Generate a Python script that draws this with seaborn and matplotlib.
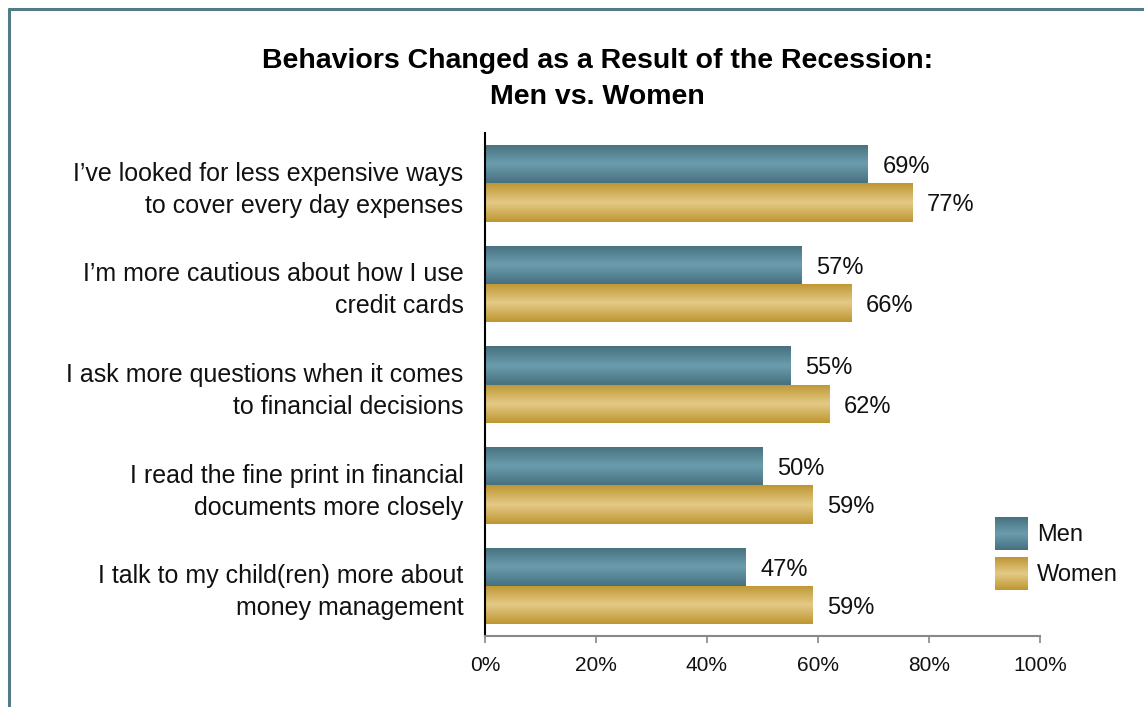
import numpy as np
import pandas as pd
import matplotlib
matplotlib.use("Agg")
import matplotlib.pyplot as plt
from matplotlib.colors import LinearSegmentedColormap
from matplotlib.lines import Line2D
import seaborn as sns

categories = [
    "I\u2019ve looked for less expensive ways\nto cover every day expenses",
    "I\u2019m more cautious about how I use\ncredit cards",
    "I ask more questions when it comes\nto financial decisions",
    "I read the fine print in financial\ndocuments more closely",
    "I talk to my child(ren) more about\nmoney management",
]
men = [69, 57, 55, 50, 47]
women = [77, 66, 62, 59, 59]
series = ["Men", "Women"]
x_ticks = [0, 20, 40, 60, 80, 100]

sns.set_theme(style="white")
plt.rcParams["font.family"] = ["Liberation Sans", "DejaVu Sans"]

df = pd.DataFrame({
    "behavior": categories * 2,
    "pct": men + women,
    "group": ["Men"] * len(men) + ["Women"] * len(women),
})

# edge / centre colours for the shaded bars
shades = {
    "Men": ["#46707e", "#6b9dae", "#46707e"],
    "Women": ["#be9630", "#e4ca87", "#be9630"],
}
cmaps = {k: LinearSegmentedColormap.from_list(k, v) for k, v in shades.items()}
flat = {"Men": "#5a8a9a", "Women": "#d4b060"}

fig = plt.figure(figsize=(11.44, 7.07), dpi=100)
ax = fig.add_axes([0.424, 0.100, 0.485, 0.712])

sns.barplot(data=df, y="behavior", x="pct", hue="group", hue_order=series,
            palette=flat, orient="h", width=0.76, ax=ax, legend=False,
            linewidth=0, saturation=1)

grad = np.linspace(0, 1, 256).reshape(-1, 1)
for container, name in zip(ax.containers, series):
    for bar, val in zip(container, men if name == "Men" else women):
        x0, y0 = bar.get_x(), bar.get_y()
        w, h = bar.get_width(), bar.get_height()
        im = ax.imshow(grad, cmap=cmaps[name], aspect="auto",
                       extent=(x0, x0 + w, y0 + h, y0), zorder=bar.get_zorder() + 0.1,
                       interpolation="bicubic")
        im.set_clip_path(bar)
        ax.text(x0 + w + 2.6, y0 + h / 2 + 0.03, f"{val}%", va="center", ha="left",
                fontsize=17, color="#111111")

ax.set_xlim(0, 100)
ax.set_ylim(len(categories) - 0.5, -0.5)
ax.set_xticks(x_ticks)
ax.set_xticklabels([f"{t}%" for t in x_ticks], fontsize=15, color="#111111")
ax.tick_params(axis="x", bottom=True, length=5, color="#888888", width=1.2, pad=9)
ax.tick_params(axis="y", left=False, length=0, pad=15.5, labelsize=18,
               labelcolor="#111111")
for lbl in ax.get_yticklabels():
    lbl.set_horizontalalignment("right")
    lbl.set_linespacing(1.42)
ax.set_xlabel("")
ax.set_ylabel("")
for s in ["top", "right"]:
    ax.spines[s].set_visible(False)
ax.spines["left"].set_color("black")
ax.spines["left"].set_linewidth(1.5)
ax.spines["bottom"].set_color("#888888")
ax.spines["bottom"].set_linewidth(1.5)

fig.text(0.522, 1 - 48 / 707,
         "Behaviors Changed as a Result of the Recession:\nMen vs. Women",
         ha="center", va="top", fontsize=20.5, fontweight="bold",
         linespacing=1.5, color="black")

# legend swatches with the same shading
W, H = 1144, 707
for i, name in enumerate(series):
    top = 517 + i * 40
    sax = fig.add_axes([995 / W, 1 - (top + 33) / H, 33 / W, 33 / H])
    sax.imshow(grad, cmap=cmaps[name], aspect="auto", interpolation="bicubic")
    sax.set_axis_off()
    fig.text(1037 / W, 1 - (top + 18) / H, name, va="center", ha="left",
             fontsize=17, color="#111111")

# frame around the chart area
bc = "#527a87"
fig.add_artist(Line2D([8.5 / W, 8.5 / W], [0, 1 - 8.5 / H], color=bc, lw=2.2,
                      transform=fig.transFigure))
fig.add_artist(Line2D([8.5 / W, 1], [1 - 8.5 / H, 1 - 8.5 / H], color=bc, lw=2.2,
                      transform=fig.transFigure))

fig.savefig("out.png", dpi=100, facecolor="white")
